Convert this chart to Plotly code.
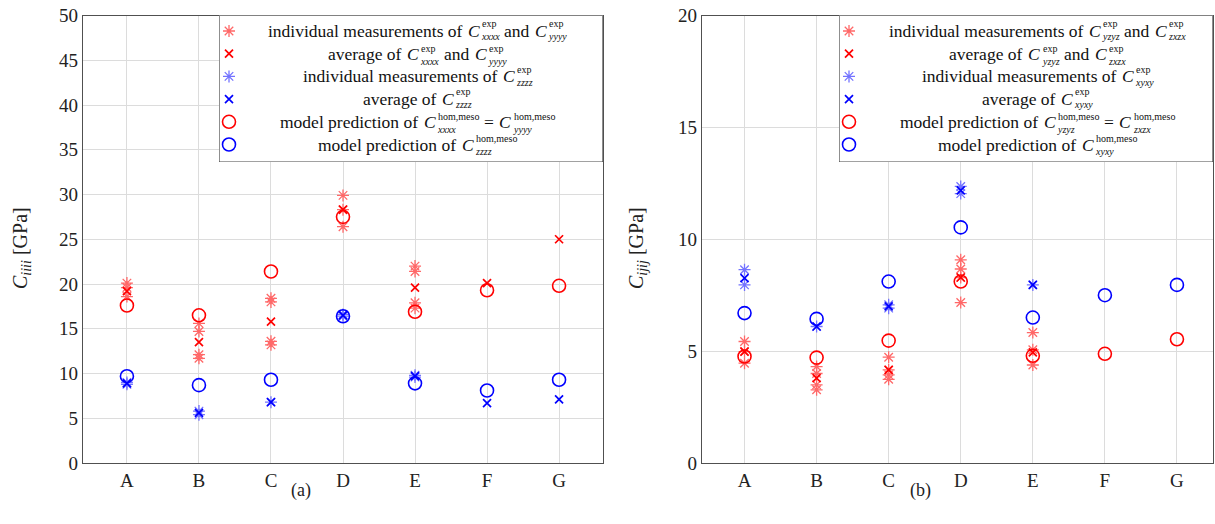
import plotly.graph_objects as go

W, H = 1215, 524
FONT = "Liberation Serif"

cats = ["A", "B", "C", "D", "E", "F", "G"]

# ---- panel (a) ----
a_xy_ind = {"A": [20.1, 19.6, 18.6], "B": [15.6, 14.7, 12.1, 11.7], "C": [18.4, 18.0, 13.6, 13.2],
            "D": [29.9, 28.3, 26.4], "E": [22.0, 21.4, 17.9, 17.3], "F": [], "G": []}
a_xy_avg = [19.2, 13.5, 15.8, 28.3, 19.6, 20.1, 25.0]
a_zz_ind = {"A": [8.8, 9.0], "B": [5.4, 5.8], "C": [6.8], "D": [16.6, 16.4], "E": [9.8, 9.6], "F": [], "G": []}
a_zz_avg = [8.9, 5.6, 6.8, 16.5, 9.7, 6.7, 7.1]
a_xy_model = [17.6, 16.5, 21.4, 27.5, 16.9, 19.3, 19.8]
a_zz_model = [9.7, 8.7, 9.3, 16.4, 8.9, 8.1, 9.3]

# ---- panel (b) ----
b_yz_ind = {"A": [5.43, 4.98, 4.46], "B": [4.31, 4.0, 3.49, 3.27], "C": [4.73, 4.16, 3.94, 3.74],
            "D": [9.08, 8.67, 8.29, 7.17], "E": [5.83, 5.06, 4.38], "F": [], "G": []}
b_yz_avg = [4.98, 3.79, 4.16, 8.29, 4.94, None, None]
b_xy_ind = {"A": [8.64, 7.96], "B": [6.1], "C": [7.07, 6.92], "D": [12.36, 12.04], "E": [7.96], "F": [], "G": []}
b_xy_avg = [8.26, 6.10, 7.0, 12.18, 7.96, None, None]
b_yz_model = [4.76, 4.71, 5.47, 8.11, 4.79, 4.88, 5.53]
b_xy_model = [6.70, 6.44, 8.11, 10.53, 6.50, 7.50, 7.96]

# legend entries: plain words and C with stacked superscript / subscript
legend_a = [
    [("individual measurements of",), ("exp", "xxxx"), ("and",), ("exp", "yyyy")],
    [("average of",), ("exp", "xxxx"), ("and",), ("exp", "yyyy")],
    [("individual measurements of",), ("exp", "zzzz")],
    [("average of",), ("exp", "zzzz")],
    [("model prediction of",), ("hom,meso", "xxxx"), ("=",), ("hom,meso", "yyyy")],
    [("model prediction of",), ("hom,meso", "zzzz")],
]
legend_b = [
    [("individual measurements of",), ("exp", "yzyz"), ("and",), ("exp", "zxzx")],
    [("average of",), ("exp", "yzyz"), ("and",), ("exp", "zxzx")],
    [("individual measurements of",), ("exp", "xyxy")],
    [("average of",), ("exp", "xyxy")],
    [("model prediction of",), ("hom,meso", "yzyz"), ("=",), ("hom,meso", "zxzx")],
    [("model prediction of",), ("hom,meso", "xyxy")],
]

RED, LRED, BLUE, LBLUE = "#ff0000", "#ff6868", "#0000ff", "#7373ff"
styles = [
    dict(symbol="asterisk-open", size=10, color=LRED, line=dict(color=LRED, width=1.3)),
    dict(symbol="x-thin-open", size=8, color=RED, line=dict(color=RED, width=1.7)),
    dict(symbol="asterisk-open", size=10, color=LBLUE, line=dict(color=LBLUE, width=1.3)),
    dict(symbol="x-thin-open", size=8, color=BLUE, line=dict(color=BLUE, width=1.7)),
    dict(symbol="circle-open", size=13, color=RED, line=dict(color=RED, width=1.6)),
    dict(symbol="circle-open", size=13, color=BLUE, line=dict(color=BLUE, width=1.6)),
]

# Liberation Serif (Times metrics) advance widths, per 1000 em
ROMAN = {" ": 250, "a": 444, "b": 500, "c": 444, "d": 500, "e": 444, "f": 333, "g": 500, "h": 500,
         "i": 278, "l": 278, "m": 778, "n": 500, "o": 500, "p": 500, "r": 333, "s": 389, "t": 278,
         "u": 500, "v": 500, "x": 500, "y": 500, "z": 444, ",": 250, "=": 564}
ITALIC = {"x": 444, "y": 444, "z": 389}


def tw(s, table):
    return sum(table[c] for c in s) / 1000.0


def px2x(p):
    return p / W


def px2y(p):
    return (H - p) / H


fig = go.Figure()


def expand(d):
    xs, ys = [], []
    for c in cats:
        for v in d[c]:
            xs.append(c)
            ys.append(v)
    return xs, ys


def add_panel(xa, ya, series):
    for (kind, data), st in zip(series, styles):
        if kind == "ind":
            xs, ys = expand(data)
        else:
            xs, ys = cats, data
        fig.add_trace(go.Scatter(x=xs, y=ys, mode="markers", marker=st, xaxis=xa, yaxis=ya,
                                 showlegend=False, hoverinfo="skip"))


add_panel("x", "y", [("ind", a_xy_ind), ("avg", a_xy_avg), ("ind", a_zz_ind), ("avg", a_zz_avg),
                     ("avg", a_xy_model), ("avg", a_zz_model)])
add_panel("x2", "y2", [("ind", b_yz_ind), ("avg", b_yz_avg), ("ind", b_xy_ind), ("avg", b_xy_avg),
                       ("avg", b_yz_model), ("avg", b_xy_model)])

# ---- legend boxes drawn on their own axes (pixel units inside the box) ----
LH = 146.5
row_y = [15.5 + 22.7 * i for i in range(6)]
script_dy = [-0.8, 0.8, 0.0, -0.8, 0.8, 0.0]
F = 17.5          # legend font size
FS = 10.0         # script size (superscript stacked over subscript)
TXT = "#111111"
annotations = []


def ann(x, y, text, size, xa, ya):
    annotations.append(dict(x=x, y=y, xref=xa, yref=ya, text=text, showarrow=False, align="left",
                            xanchor="left", yanchor="middle", borderpad=0, borderwidth=0,
                            font=dict(family=FONT, size=size, color=TXT)))


boxes = [("x3", "y3", legend_a, 219, 603, 198), ("x4", "y4", legend_b, 839, 1213, 198)]
for xa, ya, lines, x0, x1, cx in boxes:
    LW = x1 - x0
    fig.add_trace(go.Scatter(x=[0, LW, LW, 0, 0], y=[0, 0, LH, LH, 0], mode="lines", fill="toself",
                             fillcolor="white", line=dict(color="#444444", width=1.2),
                             xaxis=xa, yaxis=ya, showlegend=False, hoverinfo="skip"))
    for i, st in enumerate(styles):
        fig.add_trace(go.Scatter(x=[10], y=[row_y[i]], mode="markers", marker=st, xaxis=xa, yaxis=ya,
                                 showlegend=False, hoverinfo="skip"))
    for i, toks in enumerate(lines):
        widths = []
        for t in toks:
            if len(t) == 1:
                widths.append(tw(t[0], ROMAN) * F)
            else:
                widths.append(0.667 * F + 1.5 + max(tw(t[0], ROMAN), tw(t[1], ITALIC)) * FS)
        gap = 0.32 * F
        total = sum(widths) + gap * (len(toks) - 1)
        x = cx - total / 2.0
        y = row_y[i]
        for t, w in zip(toks, widths):
            if len(t) == 1:
                ann(x, y, t[0], F, xa, ya)
            else:
                ann(x, y, "<i>C</i>", F, xa, ya)
                ann(x + 0.667 * F + 1.5, y + script_dy[i], t[0] + "<br><i>" + t[1] + "</i>", FS, xa, ya)
            x += w + gap

axis_common = dict(showline=True, mirror=True, linecolor="#505050", linewidth=1.2,
                   gridcolor="#dcdcdc", gridwidth=1, zeroline=False, automargin=False,
                   tickfont=dict(family=FONT, size=19, color="#222222"))

yd = [px2y(463), px2y(15.5)]
ld = [px2y(162), px2y(15.5)]
fig.update_layout(
    width=W, height=H, margin=dict(l=0, r=0, t=0, b=0, pad=0, autoexpand=False),
    paper_bgcolor="white", plot_bgcolor="white",
    xaxis=dict(domain=[px2x(83), px2x(603)], type="category", categoryorder="array", categoryarray=cats,
               range=[-0.61, 6.61], anchor="y", **axis_common),
    yaxis=dict(domain=yd, range=[0, 50], dtick=5, anchor="x", **axis_common),
    xaxis2=dict(domain=[px2x(702), px2x(1213)], type="category", categoryorder="array", categoryarray=cats,
                range=[-0.59, 6.5], anchor="y2", **axis_common),
    yaxis2=dict(domain=yd, range=[0, 20], dtick=5, anchor="x2", **axis_common),
    xaxis3=dict(domain=[px2x(219), px2x(603)], range=[0, 603 - 219], visible=False, anchor="y3",
                automargin=False),
    yaxis3=dict(domain=ld, range=[LH, 0], visible=False, anchor="x3", automargin=False),
    xaxis4=dict(domain=[px2x(839), px2x(1213)], range=[0, 1213 - 839], visible=False, anchor="y4",
                automargin=False),
    yaxis4=dict(domain=ld, range=[LH, 0], visible=False, anchor="x4", automargin=False),
)

annotations += [
    dict(x=px2x(21), y=px2y(248), xref="paper", yref="paper", text="<i>C</i><sub><i>iiii</i></sub> [GPa]",
         textangle=-90, showarrow=False, xanchor="center", yanchor="middle",
         font=dict(family=FONT, size=20, color="#222222")),
    dict(x=px2x(637), y=px2y(248), xref="paper", yref="paper", text="<i>C</i><sub><i>ijij</i></sub> [GPa]",
         textangle=-90, showarrow=False, xanchor="center", yanchor="middle",
         font=dict(family=FONT, size=20, color="#222222")),
    dict(x=px2x(301), y=px2y(490), xref="paper", yref="paper", text="(a)", showarrow=False,
         xanchor="center", yanchor="middle", font=dict(family=FONT, size=18, color="#222222")),
    dict(x=px2x(921), y=px2y(490), xref="paper", yref="paper", text="(b)", showarrow=False,
         xanchor="center", yanchor="middle", font=dict(family=FONT, size=18, color="#222222")),
]
fig.update_layout(annotations=annotations)

fig.write_html("out.html")
